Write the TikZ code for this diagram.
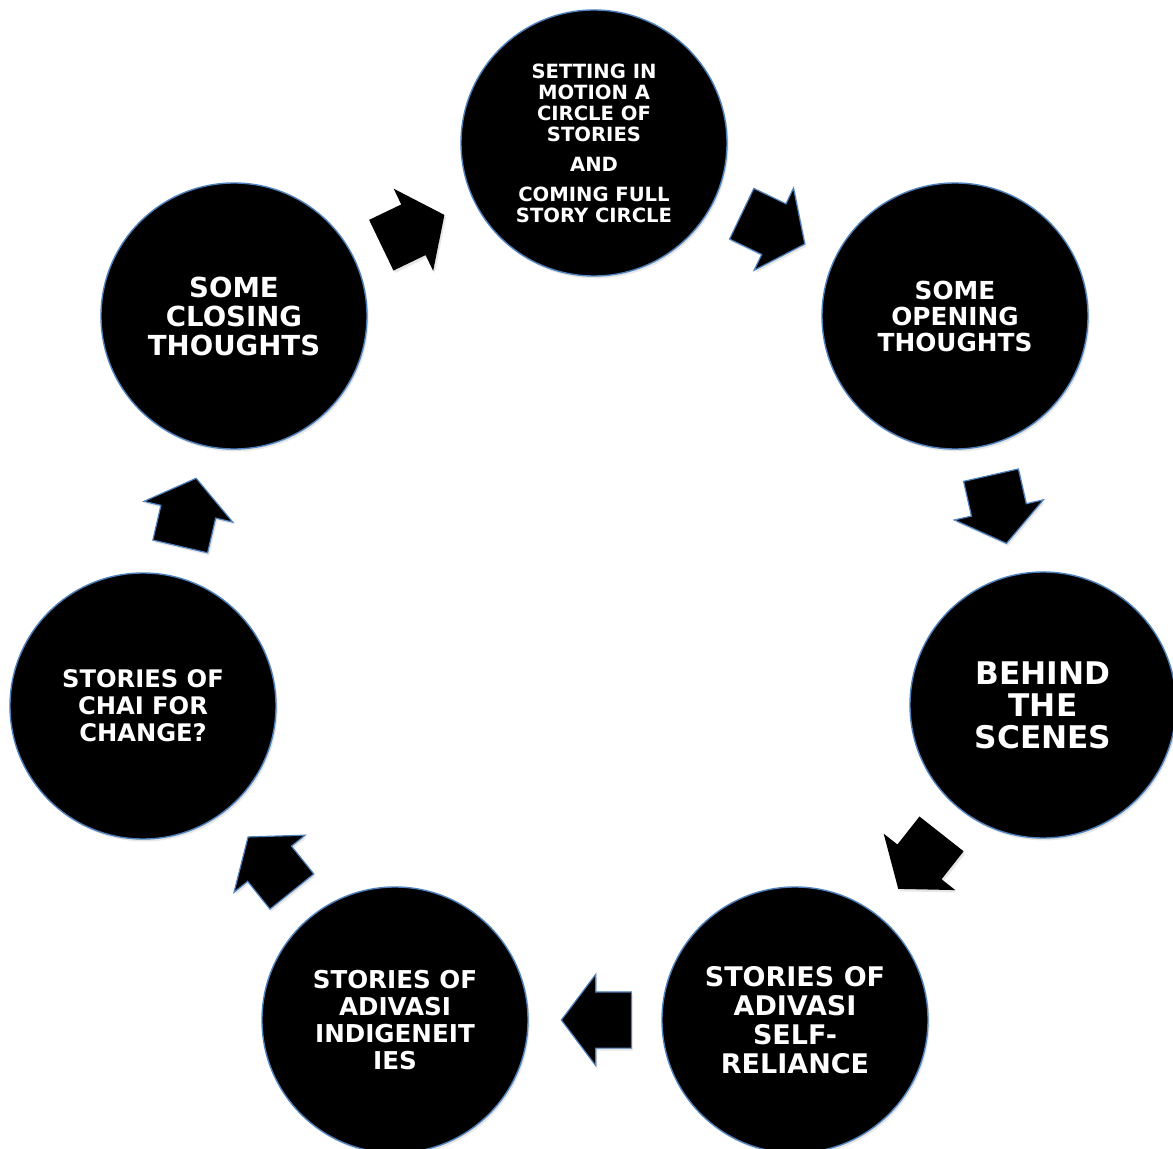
\documentclass[tikz,border=0pt]{standalone}
\usepackage{fontspec}
\setsansfont{DejaVu Sans}
\usetikzlibrary{shapes.arrows,shadows}

\definecolor{ringblue}{HTML}{4F81BD}

\begin{document}
\begin{tikzpicture}[x=0.5pt, y=-0.5pt,
    stage/.style 2 args={circle, fill=black, draw=ringblue, line width=0.7pt,
        minimum size=133pt, inner sep=0pt, text=white, align=center,
        font=\sffamily\bfseries\fontsize{#1}{#2}\selectfont,
        drop shadow={opacity=0.2, shadow xshift=0.8pt, shadow yshift=-1.2pt}},
    flow/.style={single arrow, fill=black, draw=ringblue, line width=0.6pt,
        minimum height=35pt, inner xsep=0pt, inner ysep=13.75pt,
        single arrow head extend=8.75pt, single arrow tip angle=106,
        pos=0.41, sloped, allow upside down,
        drop shadow={opacity=0.2, shadow xshift=0.8pt, shadow yshift=-1.2pt}}]
    \useasboundingbox (0,0) rectangle (1173,1149);

    % Stages of the circle
    \node[stage={9.8}{10.5}] (setting) at (594,143)
        {SETTING IN\\MOTION A\\CIRCLE OF\\STORIES\\[4.5pt]AND\\[4.5pt]COMING FULL\\STORY CIRCLE};
    \node[stage={12.4}{13}] (opening) at (955,316) {SOME\\OPENING\\THOUGHTS};
    \node[stage={15.6}{16}] (behind) at (1043,705) {BEHIND\\THE\\SCENES};
    \node[stage={13.5}{14.5}] (selfrel) at (795,1020) {STORIES OF\\ADIVASI\\SELF-\\RELIANCE};
    \node[stage={12.3}{13.5}] (indig) at (395,1020) {STORIES OF\\ADIVASI\\INDIGENEIT\\IES};
    \node[stage={12.1}{13.5}] (chai) at (143,706) {STORIES OF\\CHAI FOR\\CHANGE?};
    \node[stage={13.8}{14.5}] (closing) at (234,316) {SOME\\CLOSING\\THOUGHTS};

    % Arrows between stages
    \path (setting) -- (opening) node[flow] (a1) {};
    \path (opening) -- (behind) node[flow] (a2) {};
    \path (behind) -- (selfrel) node[flow, draw=none] (a3) {};
    \path (selfrel) -- (indig) node[flow] (a4) {};
    \path (indig) -- (chai) node[flow] (a5) {};
    \path (chai) -- (closing) node[flow] (a6) {};
    \path (closing) -- (setting) node[flow, draw=none] (a7) {};
\end{tikzpicture}
\end{document}
